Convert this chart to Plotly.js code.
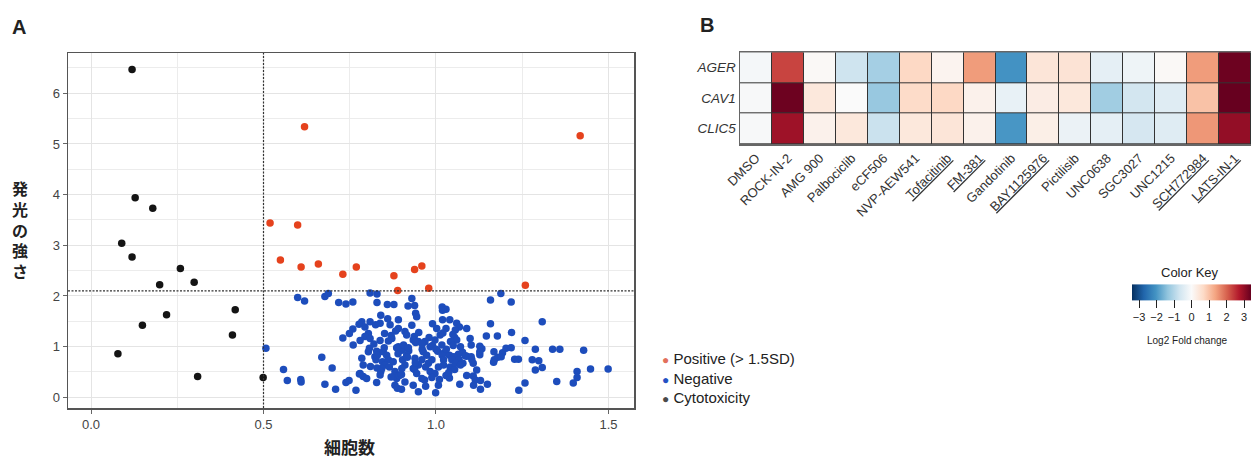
<!DOCTYPE html>
<html>
<head>
<meta charset="utf-8">
<script src="https://cdn.plot.ly/plotly-3.0.1.min.js"></script>
<style>html,body{margin:0;padding:0;background:#fff;}#chart{width:1251px;height:460px;}</style>
</head>
<body>
<div id="chart"></div>
<script>
// ---------- Panel A data (x: 細胞数, y: 発光の強さ) ----------
const cytoX = [0.119,0.128,0.179,0.089,0.119,0.259,0.299,0.199,0.219,0.149,0.418,0.410,0.078,0.309,0.499];
const cytoY = [6.47,3.94,3.73,3.04,2.77,2.54,2.27,2.22,1.63,1.42,1.73,1.23,0.86,0.41,0.39];

const posX = [0.619,1.418,0.519,0.599,0.549,0.609,0.659,0.730,0.769,0.878,0.938,0.959,0.889,0.979,1.259];
const posY = [5.34,5.16,3.44,3.40,2.71,2.57,2.63,2.43,2.57,2.40,2.52,2.59,2.11,2.15,2.21];

const negX = [0.599,0.619,0.678,0.688,0.718,0.739,0.759,0.809,0.829,0.829,0.859,0.878,0.919,0.938,0.930,1.018,1.029,1.019,1.158,1.188,
1.218,0.840,0.941,0.944,1.308,0.785,0.809,0.794,0.777,0.825,0.838,0.867,0.891,0.891,0.910,0.915,0.937,0.804,0.759,0.749,
0.851,0.883,1.019,1.040,1.060,1.068,1.089,1.002,1.029,1.158,1.146,1.178,1.219,1.049,1.012,0.794,0.730,0.809,0.862,0.872,
0.780,0.838,0.760,0.949,0.968,0.983,0.997,1.017,1.054,1.060,1.042,1.099,1.102,1.127,1.133,1.258,0.891,0.901,0.807,0.828,
0.847,0.804,0.915,0.921,0.963,0.973,1.005,0.990,1.024,1.039,1.065,1.077,1.089,1.102,1.127,1.168,1.193,1.203,1.218,1.288,
1.338,1.359,1.428,0.507,0.669,0.857,0.886,0.906,0.934,0.941,0.823,0.785,0.826,0.845,0.862,0.876,0.903,0.917,0.939,0.959,
0.988,1.018,1.052,1.067,1.078,1.108,1.169,1.179,1.189,1.228,1.239,1.279,1.298,0.789,0.852,0.865,0.910,0.949,0.978,1.007,
1.041,1.308,1.288,1.448,1.499,1.409,0.934,0.901,0.843,0.829,0.938,1.054,1.118,0.558,0.699,0.840,0.881,0.780,0.944,0.983,
0.997,0.891,0.838,0.789,0.799,0.778,0.886,0.879,0.894,0.959,0.967,0.988,1.029,1.039,1.089,1.108,1.409,0.569,0.608,0.609,
0.678,0.739,0.748,0.828,0.881,0.934,1.007,1.069,1.129,1.149,1.258,1.350,1.398,0.709,0.768,0.888,0.900,0.949,0.999,1.129,
1.240,1.056,1.071,1.127,1.085,1.104,1.167,1.022,1.046,1.056,1.071,1.022,1.037,1.114,1.109,
0.82,0.87,0.95,0.98,1.00,0.92,0.96,0.85,0.89,0.94,0.97,1.03,1.05,0.81,0.87,0.91,0.97,1.01,0.93,0.86,0.99,1.02,0.90,0.83,0.96];
const negY = [1.97,1.90,1.99,2.05,1.87,1.84,1.88,2.06,2.04,1.87,1.83,1.83,1.80,1.81,1.95,1.78,1.74,1.72,1.92,2.05,
1.88,1.62,1.66,1.59,1.49,1.49,1.49,1.39,1.44,1.43,1.46,1.43,1.53,1.36,1.30,1.23,1.20,1.26,1.35,1.26,
1.26,1.31,1.53,1.53,1.46,1.39,1.36,1.36,1.36,1.45,1.21,1.21,1.28,1.24,1.23,1.20,1.17,1.16,1.11,1.16,
1.12,1.12,1.03,1.10,1.10,1.00,1.13,1.03,1.18,1.13,1.10,1.16,1.03,1.01,0.96,1.12,1.00,0.93,0.97,0.91,
0.90,0.90,0.83,0.92,0.90,0.83,0.91,1.02,0.88,0.83,0.85,0.89,0.81,0.80,0.84,0.90,0.88,0.97,0.98,0.95,
0.95,0.95,0.93,0.97,0.79,0.83,0.98,1.03,1.13,1.08,0.80,0.77,0.74,0.70,0.74,0.70,0.74,0.79,0.77,0.74,
0.74,0.83,0.80,0.74,0.67,0.67,0.74,0.79,0.80,0.75,0.75,0.74,0.72,0.64,0.64,0.60,0.64,0.64,0.67,0.60,
0.60,0.59,0.54,0.56,0.56,0.51,0.57,0.57,0.57,0.58,0.55,0.55,0.54,0.55,0.58,0.51,0.51,0.47,0.47,0.51,
0.47,0.44,0.44,0.41,0.37,0.46,0.37,0.42,0.43,0.37,0.34,0.39,0.43,0.38,0.43,0.42,0.39,0.33,0.35,0.30,
0.26,0.29,0.33,0.29,0.24,0.24,0.24,0.26,0.33,0.26,0.28,0.31,0.28,0.16,0.14,0.18,0.16,0.11,0.09,0.16,
0.14,1.33,1.00,0.90,0.82,0.74,0.69,0.74,0.74,0.67,0.64,0.64,0.49,0.34,0.24,
1.05,1.22,1.28,1.18,0.95,0.98,0.95,0.98,0.86,0.68,0.60,0.95,1.02,0.61,0.40,0.30,0.22,0.35,1.42,1.55,1.45,1.27,0.45,0.83,1.05];

const cellCut = 0.5;      // vertical dashed threshold (細胞数)
const signalCut = 2.1;    // horizontal dashed threshold (1.5SD)
const xTickVals = [0, 0.5, 1.0, 1.5];
const yTickVals = [0, 1, 2, 3, 4, 5, 6];
const legendLabels = ['Positive (&gt; 1.5SD)', 'Negative', 'Cytotoxicity'];

// ---------- Panel B data (log2 fold change) ----------
const drugs = ['DMSO','ROCK-IN-2','AMG 900','Palbociclib','eCF506','NVP-AEW541','Tofacitinib','FM-381',
               'Gandotinib','BAY1125976','Pictilisib','UNC0638','SGC3027','UNC1215','SCH772984','LATS-IN-1'];
const underlined = ['Tofacitinib','FM-381','BAY1125976','SCH772984','LATS-IN-1'];
const genes = ['AGER','CAV1','CLIC5'];
const fcAGER  = [-0.10, 2.30, 0.05, -0.70, -1.15, 0.70, 0.15, 1.45, -2.05, 0.45, 0.50, -0.35, -0.20, 0.05, 1.45, 3.35];
const fcCAV1  = [-0.05, 3.35, 0.40,  0.00, -1.30, 0.65, 0.70, 0.20, -0.30, 0.30, 0.40, -1.20, -0.65, -0.45, 1.00, 3.40];
const fcCLIC5 = [-0.05, 2.90, 0.20,  0.40, -0.75, 0.40, 0.45, 0.20, -2.00, 0.25, -0.25, -0.35, -0.60, -0.45, 1.50, 3.00];
const keyTicks = [-3,-2,-1,0,1,2,3];

// ---------- layout helpers ----------
const W = 1251, H = 460;
const px = v => v / W;
const py = v => 1 - v / H;
const FONT = 'Liberation Sans, Arial, sans-serif';
const JP = 'Noto Sans CJK JP, sans-serif';

const red = '#E5421D', blue = '#1D4DBC', black = '#141414';

const traces = [
  {type:'scatter', mode:'markers', x:negX, y:negY, xaxis:'x', yaxis:'y',
   marker:{color:blue, size:7.5}, hoverinfo:'skip'},
  {type:'scatter', mode:'markers', x:posX, y:posY, xaxis:'x', yaxis:'y',
   marker:{color:red, size:7.5}, hoverinfo:'skip'},
  {type:'scatter', mode:'markers', x:cytoX, y:cytoY, xaxis:'x', yaxis:'y',
   marker:{color:black, size:7.5}, hoverinfo:'skip'},
  {type:'heatmap', x:drugs, y:genes, z:[fcAGER, fcCAV1, fcCLIC5], xaxis:'x2', yaxis:'y2',
   zmin:-3.4, zmax:3.4, xgap:1, ygap:1,
   colorscale:[[0,'#053061'],[0.1,'#2166AC'],[0.2,'#4393C3'],[0.3,'#92C5DE'],[0.4,'#D1E5F0'],
               [0.5,'#FAFAFA'],[0.6,'#FDDBC7'],[0.7,'#F4A582'],[0.8,'#D6604D'],[0.9,'#B2182B'],[1,'#67001F']],
   colorbar:{orientation:'h', x:px(1132), xanchor:'left', lenmode:'pixels', len:119,
             y:py(304), yanchor:'middle', thickness:16, xpad:0, ypad:0, outlinewidth:0,
             tickmode:'array', tickvals:keyTicks, ticktext:keyTicks.map(v => v < 0 ? '\u2212' + Math.abs(v) : String(v)),
             ticks:'outside', ticklen:8, tickcolor:'#222', tickfont:{family:FONT, size:11, color:'#222'}},
   hoverinfo:'skip'}
];

const axisFont = {family:FONT, size:13, color:'#444'};

const layout = {
  width:W, height:H, margin:{l:0,r:0,t:0,b:0},
  paper_bgcolor:'#fff', plot_bgcolor:'#fff', showlegend:false,
  xaxis:{domain:[px(68), px(634)], range:[-0.0667, 1.574], anchor:'y',
         tickmode:'array', tickvals:xTickVals, ticktext:xTickVals.map(v => v.toFixed(1)),
         showgrid:true, gridcolor:'#e4e4e4', gridwidth:1,
         minor:{dtick:0.25, tick0:0, showgrid:true, gridcolor:'#ececec', gridwidth:1},
         ticks:'outside', ticklen:4, tickcolor:'#666', tickfont:axisFont,
         showline:true, mirror:true, linecolor:'#555', linewidth:1.5, zeroline:false},
  yaxis:{domain:[py(408), py(53)], range:[-0.211, 6.795], anchor:'x',
         tickmode:'array', tickvals:yTickVals,
         showgrid:true, gridcolor:'#e4e4e4', gridwidth:1,
         minor:{dtick:0.5, tick0:0, showgrid:true, gridcolor:'#ececec', gridwidth:1},
         ticks:'outside', ticklen:4, tickcolor:'#666', tickfont:axisFont,
         showline:true, mirror:true, linecolor:'#555', linewidth:1.5, zeroline:false},
  xaxis2:{domain:[px(740), 1], anchor:'y2', type:'category',
          tickmode:'array', tickvals:drugs,
          ticktext:drugs.map(d => underlined.includes(d) ? '<span style="text-decoration:underline">' + d + '</span>' : d),
          tickangle:-45, ticks:'', tickfont:{family:FONT, size:13, color:'#333'},
          showline:true, mirror:true, linecolor:'#666', linewidth:1.5, showgrid:false, zeroline:false},
  yaxis2:{domain:[py(144), py(52.3)], anchor:'x2', type:'category', autorange:'reversed',
          ticks:'', tickfont:{family:FONT, size:13.5, color:'#333', style:'italic'},
          showline:true, mirror:true, linecolor:'#666', linewidth:1.5, showgrid:false, zeroline:false},
  shapes:[
    {type:'rect', xref:'x2 domain', yref:'y2 domain', x0:0, x1:1, y0:0, y1:1,
     fillcolor:'#333', line:{width:0}, layer:'below'},
    {type:'line', xref:'x', yref:'y domain', x0:cellCut, x1:cellCut, y0:0, y1:1,
     line:{color:'#333', width:1.2, dash:'2px,1.5px'}},
    {type:'line', xref:'x domain', yref:'y', x0:0, x1:1, y0:signalCut, y1:signalCut,
     line:{color:'#333', width:1.2, dash:'2px,1.5px'}}
  ],
  annotations:[]
};

const ann = layout.annotations;
ann.push({xref:'paper', yref:'paper', x:px(10), y:py(27), xanchor:'left', yanchor:'middle', showarrow:false,
          text:'A', font:{family:FONT, size:20, color:'#222', weight:'bold'}});
ann.push({xref:'paper', yref:'paper', x:px(698), y:py(25), xanchor:'left', yanchor:'middle', showarrow:false,
          text:'B', font:{family:FONT, size:20, color:'#222', weight:'bold'}});
// vertical (stacked) y-axis title
const yTitleChars = ['発','光','の','強','さ'];
ann.push({xref:'paper', yref:'paper', x:px(20), y:py(229), xanchor:'center', yanchor:'middle', showarrow:false,
  text:yTitleChars.join('<br>'), font:{family:JP, size:16, color:'#222', weight:'bold'}});
ann.push({xref:'paper', yref:'paper', x:px(349), y:py(446), xanchor:'center', yanchor:'middle', showarrow:false,
          text:'細胞数', font:{family:JP, size:17, color:'#222', weight:'bold'}});
// legend
const legendColors = ['#E2705C', '#2351C4', '#4a4a4a'];
const legendY = [358, 378, 397];
legendLabels.forEach((t, i) => ann.push({xref:'paper', yref:'paper', x:px(660), y:py(legendY[i]),
  xanchor:'left', yanchor:'middle', showarrow:false,
  text:'<span style="color:' + legendColors[i] + ';font-size:12px">\u25CF</span> ' + t,
  font:{family:FONT, size:15, color:'#222'}}));
// color key texts
ann.push({xref:'paper', yref:'paper', x:px(1190), y:py(272), xanchor:'center', yanchor:'middle', showarrow:false,
          text:'Color Key', font:{family:FONT, size:13, color:'#222'}});
ann.push({xref:'paper', yref:'paper', x:px(1187), y:py(340), xanchor:'center', yanchor:'middle', showarrow:false,
          text:'Log2 Fold change', font:{family:FONT, size:10, color:'#222'}});

Plotly.newPlot('chart', traces, layout, {staticPlot:true, displayModeBar:false});
</script>
</body>
</html>
